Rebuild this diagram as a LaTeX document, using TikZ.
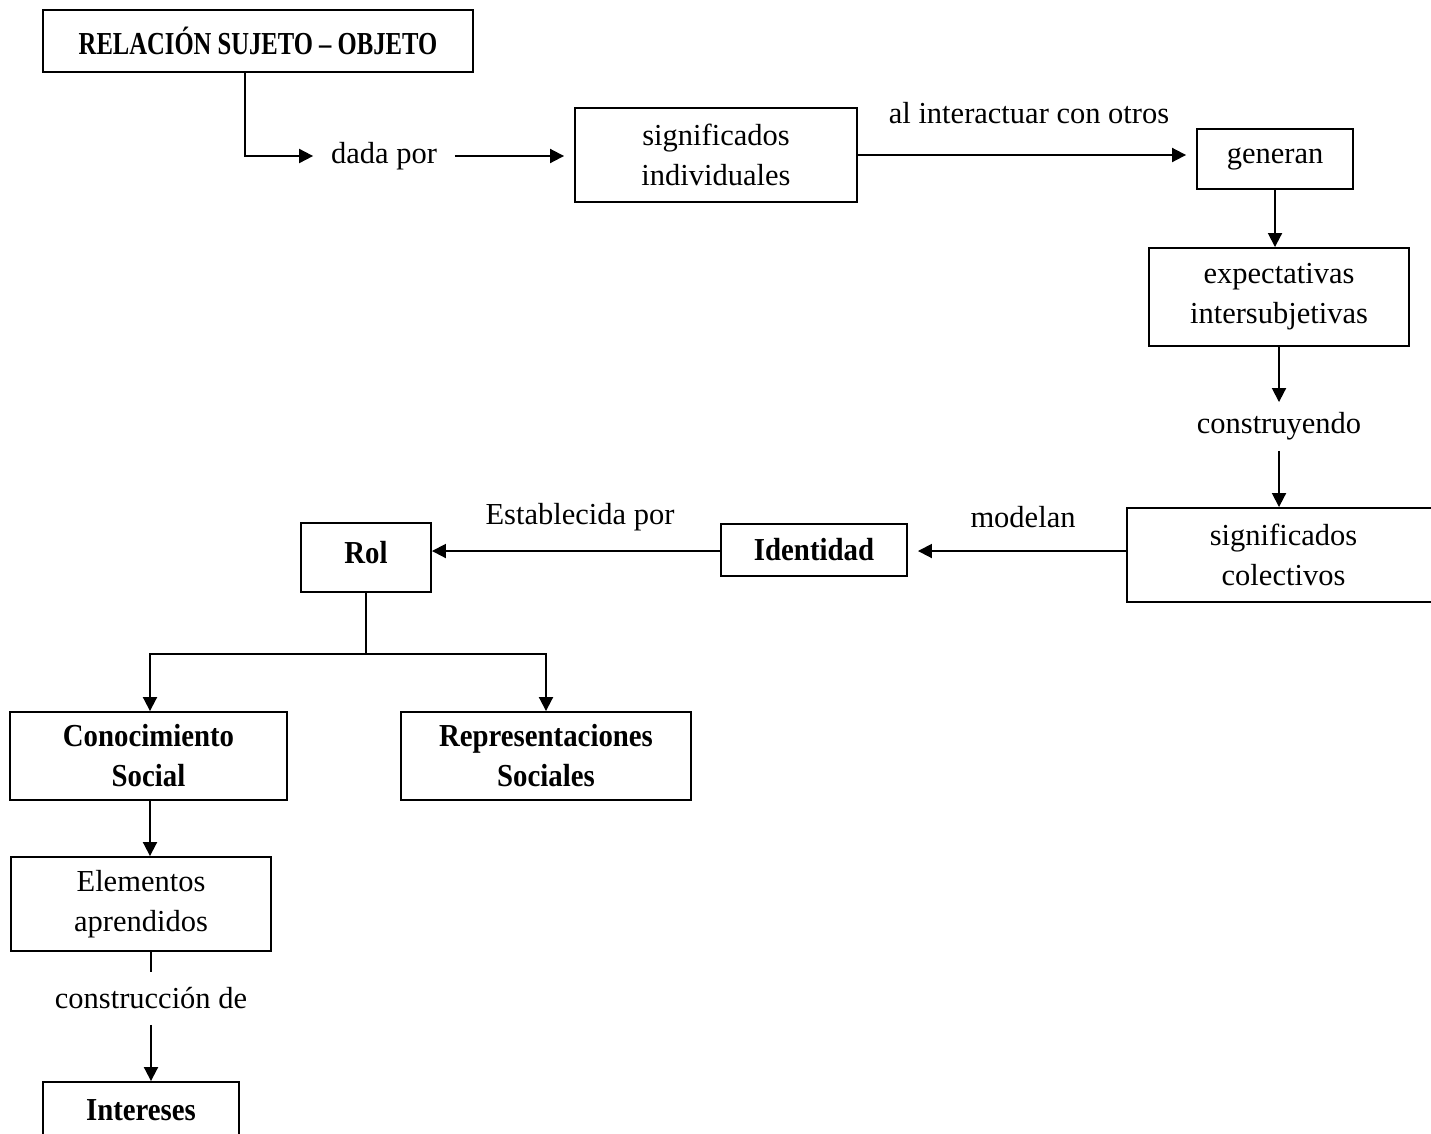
\documentclass[tikz,border=0pt]{standalone}
\usepackage{fontspec}
\setmainfont{Liberation Serif}
\newfontfamily\bfcond[FakeStretch=0.9]{Liberation Serif}
\newfontfamily\bfnarrow[FakeStretch=0.77]{Liberation Serif}
\usetikzlibrary{arrows.meta}
\begin{document}
\begin{tikzpicture}[x=1pt,y=-1pt, line width=1.9pt,
  box/.style={draw, rectangle, inner sep=0pt, align=center, font=\fontsize{30.5}{40}\selectfont},
  bbox/.style={box, font=\bfcond\bfseries\fontsize{32}{40}\selectfont},
  lbl/.style={inner sep=0pt, align=center, font=\fontsize{30.5}{40}\selectfont},
  arr/.style={-{Triangle[length=14pt,width=14pt]}}]
\useasboundingbox (0,0) rectangle (1431,1133);
% boxes
\node[bbox, minimum width=430pt, minimum height=62pt, font=\bfnarrow\bfseries\fontsize{32}{40}\selectfont] (R) at (258,41) {RELACIÓN SUJETO – OBJETO};
\node[box, minimum width=282pt, minimum height=94pt] (sigind) at (716,155) {significados\\individuales};
\node[box, minimum width=156pt, minimum height=60pt] (gen) at (1275,159) {generan};
\node[box, minimum width=260pt, minimum height=98pt] (exp) at (1279,297) {expectativas\\intersubjetivas};
\node[box, minimum width=313pt, minimum height=94pt] (sigcol) at (1283.5,555) {significados\\colectivos};
\node[bbox, minimum width=186pt, minimum height=52pt] (ident) at (814,550) {Identidad};
\node[bbox, minimum width=130pt, minimum height=69pt, text depth=10pt] (rol) at (366,557.5) {Rol};
\node[bbox, minimum width=277pt, minimum height=88pt] (conoc) at (148.5,756) {Conocimiento\\Social};
\node[bbox, minimum width=290pt, minimum height=88pt] (repr) at (546,756) {Representaciones\\Sociales};
\node[box, minimum width=260pt, minimum height=94pt] (elem) at (141,904) {Elementos\\aprendidos};
\node[bbox, minimum width=196pt, minimum height=56pt] (inter) at (141,1110) {Intereses};
% labels
\node[lbl, inner xsep=17pt, minimum height=40pt] (dada) at (384,156) {dada por};
\node[lbl] (interact) at (1029,113) {al interactuar con otros};
\node[lbl, minimum height=47pt] (constr) at (1279,426.5) {construyendo};
\node[lbl] (model) at (1023,517) {modelan};
\node[lbl] (estab) at (580,517) {Establecida por};
\node[lbl, minimum height=51pt] (constr2) at (151,998.5) {construcción de};
\coordinate (br) at (366,654);
% connectors
\draw[arr] ([xshift=-13pt]R.south) |- (dada.west);
\draw[arr, shorten >=10pt] (dada.east) -- (dada.east -| sigind.west);
\draw[arr, shorten >=10pt] (sigind.east) -- (sigind.east -| gen.west);
\draw[arr] (gen.south) -- (gen.south |- exp.north);
\draw[arr] (exp.south) -- (constr.north);
\draw[arr] (constr.south) -- (constr.south |- sigcol.north);
\draw[arr, shorten >=10pt] (sigcol.west |- 0,551) -- (ident.east |- 0,551);
\draw[arr] (ident.west |- 0,551) -- (rol.east |- 0,551);
\draw (rol.south) -- (br);
\draw[arr] (br) -| (conoc.north -| 150,0);
\draw[arr] (br) -| (repr.north);
\draw[arr] (conoc.south -| 150,0) -- (elem.north -| 150,0);
\draw (constr2.north |- elem.south) -- (constr2.north);
\draw[arr] (constr2.south) -- (constr2.south |- inter.north);
\end{tikzpicture}
\end{document}
